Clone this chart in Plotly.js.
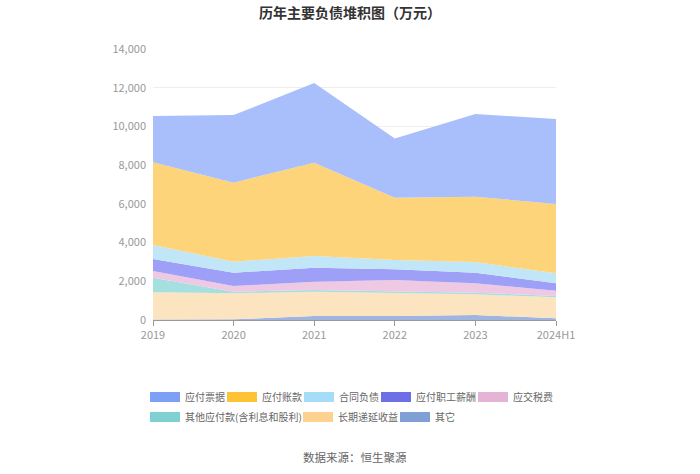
<!DOCTYPE html>
<html>
<head>
<meta charset="utf-8">
<script src="https://cdn.plot.ly/plotly-3.0.1.min.js"></script>
<style>html,body{margin:0;padding:0;background:#fff;}#chart{width:700px;height:474px;}</style>
</head>
<body>
<div id="chart"></div>
<script>
var categories = ["2019", "2020", "2021", "2022", "2023", "2024H1"];
// series listed bottom (first) to top (last) of the stack
var qita      = [30, 35, 207, 207, 258, 86];          // 其它
var diyan     = [1400, 1343, 1256, 1171, 1067, 1085];  // 长期递延收益
var qitayingfu= [754, 85, 87, 85, 87, 69];             // 其他应付款(含利息和股利)
var shuifei   = [345, 293, 430, 604, 482, 275];        // 应交税费
var xinchou   = [620, 687, 725, 551, 549, 378];        // 应付职工薪酬
var hetong    = [725, 569, 601, 482, 547, 517];        // 合同负债
var zhangkuan = [4270, 4083, 4824, 3220, 3380, 3580];  // 应付账款
var piaoju    = [2395, 3495, 4110, 3060, 4270, 4390];  // 应付票据

var seriesNames = ["其它", "长期递延收益", "其他应付款(含利息和股利)", "应交税费", "应付职工薪酬", "合同负债", "应付账款", "应付票据"];
var seriesValues = [qita, diyan, qitayingfu, shuifei, xinchou, hetong, zhangkuan, piaoju];
var fillColors   = ["#9fb5e0", "#fde4c0", "#a6dfe0", "#efc8e4", "#9e9ff6", "#c0e6f8", "#fdd47a", "#a9bffb"];
var legendColors = ["#7f9fd5", "#fdd28e", "#7fd1d1", "#e5b3d6", "#6e6ee6", "#a6dcf8", "#fdc335", "#7d9ff6"];

// legend placement: one small legend per series (text left edge px, row)
var legendTextX = [435, 338, 185, 513, 416, 339, 262, 185];
var legendRow   = [2, 2, 2, 1, 1, 1, 1, 1];

var plotL = 153, plotR = 556, plotT = 49, plotB = 320;
var plotW = plotR - plotL, plotH = plotB - plotT;
var rowY = {1: 397, 2: 417};

var font = "'Noto Sans CJK SC', 'Noto Sans', sans-serif";

var traces = seriesNames.map(function(n, i) {
  return {
    type: "scatter",
    mode: "lines",
    name: n,
    x: categories,
    y: seriesValues[i],
    stackgroup: "one",
    line: {width: 0, color: fillColors[i]},
    fillcolor: fillColors[i],
    showlegend: false
  };
});

// legend-only entries (no data) so the swatches carry the solid series colours
seriesNames.forEach(function(n, i) {
  traces.push({
    type: "scatter",
    mode: "lines",
    name: n,
    x: [null],
    y: [null],
    line: {width: 10, color: legendColors[i]},
    showlegend: true,
    legend: i === 0 ? "legend" : "legend" + (i + 1)
  });
});

var layout = {
  width: 700, height: 474,
  margin: {l: plotL, r: 700 - plotR, t: plotT, b: 474 - plotB, autoexpand: false},
  paper_bgcolor: "#ffffff",
  plot_bgcolor: "#ffffff",
  font: {family: font, size: 11, color: "#999999"},
  title: {
    text: "<b>历年主要负债堆积图（万元）</b>",
    font: {family: font, size: 14, color: "#333333"},
    x: 0.5, xanchor: "center",
    y: 1 - 13/474, yanchor: "middle"
  },
  xaxis: {
    type: "category",
    categoryorder: "array",
    categoryarray: categories,
    range: [0, 5],
    showgrid: false,
    showline: true, linecolor: "#999999", linewidth: 1,
    ticks: "outside", ticklen: 5, tickcolor: "#999999",
    tickfont: {size: 11, color: "#999999"},
    zeroline: false
  },
  yaxis: {
    range: [0, 14000],
    dtick: 2000,
    tickformat: ",d",
    showgrid: true, gridcolor: "#eeeeee", gridwidth: 1,
    showline: false, zeroline: false,
    ticks: "", ticklabelstandoff: 6,
    tickfont: {size: 11, color: "#999999"}
  },
  showlegend: true,
  annotations: [{
    text: "数据来源：恒生聚源",
    xref: "paper", yref: "paper",
    x: 0.5, y: (plotB - 457) / plotH,
    xanchor: "center", yanchor: "middle",
    showarrow: false,
    font: {family: font, size: 11.5, color: "#666666"}
  }]
};

seriesNames.forEach(function(n, i) {
  var key = i === 0 ? "legend" : "legend" + (i + 1);
  layout[key] = {
    orientation: "h",
    x: (legendTextX[i] - 40 - plotL) / plotW,
    xanchor: "left",
    y: (plotB - rowY[legendRow[i]]) / plotH,
    yanchor: "middle",
    bgcolor: "rgba(0,0,0,0)",
    borderwidth: 0,
    itemwidth: 30,
    font: {family: font, size: 10, color: "#666666"}
  };
});

Plotly.newPlot("chart", traces, layout, {displayModeBar: false, staticPlot: true});
</script>
</body>
</html>
